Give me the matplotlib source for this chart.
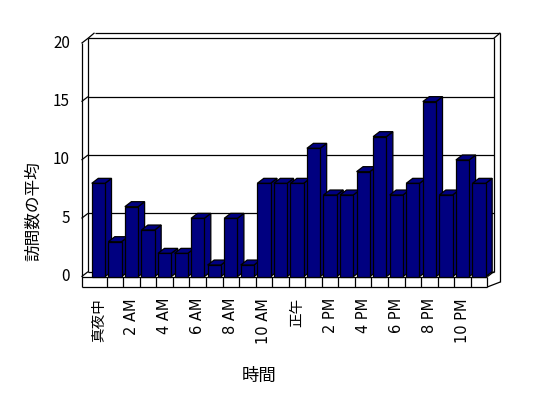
import matplotlib
matplotlib.use("Agg")
import matplotlib.pyplot as plt
from matplotlib.patches import Polygon

plt.rcParams["font.family"] = ["Noto Sans CJK JP", "DejaVu Sans"]

# data
hours = list(range(24))
visits = [8, 3, 6, 4, 2, 2, 5, 1, 5, 1, 8, 8, 8, 11, 7, 7, 9, 12, 7, 8, 15, 7, 10, 8]
tick_pos = [0, 2, 4, 6, 8, 10, 12, 14, 16, 18, 20, 22]
tick_labels = ["真夜中", "2 AM", "4 AM", "6 AM", "8 AM", "10 AM",
               "正午", "2 PM", "4 PM", "6 PM", "8 PM", "10 PM"]
y_ticks = [0, 5, 10, 15, 20]
x_title = "時間"
y_title = "訪問数の平均"

BAR = "#000080"
# pseudo-3d geometry in data units (category / value)
L, R = -1.02, 23.5        # front left / right edges of the plot box
YMAX = 20
FT = 0.88                 # floor thickness
DX, DY = 0.393, 0.428     # depth offset
TX, TY = 0.393, 0.47      # wall thickness
BW = 0.4                  # half bar width
LW = 0.9

fig = plt.figure(figsize=(5.48, 3.98), dpi=100)
ax = fig.add_axes([0, 0, 1, 1])
ax.set_xlim(-5.945, 27.166)
ax.set_ylim(-10.394, 23.71)
ax.axis("off")


def line(xs, ys, z=2):
    ax.plot(xs, ys, color="black", lw=LW, solid_capstyle="butt", zorder=z)


# walls
line([L, L], [-FT, YMAX])
line([L, L + DX, L + DX + TX], [YMAX, YMAX + DY, YMAX + DY + TY])
line([L + DX, L + DX], [DY, YMAX + DY])
line([L + DX, R + DX], [YMAX + DY, YMAX + DY])
line([R + DX, R + DX], [DY, YMAX + DY])
line([L + DX + TX, R + DX + TX], [YMAX + DY + TY, YMAX + DY + TY])
line([R + DX, R + DX + TX], [YMAX + DY, YMAX + DY + TY])
line([R + DX + TX, R + DX + TX], [YMAX + DY + TY, -FT + DY])
for v in y_ticks[:-1]:
    line([L, L + DX], [v, v + DY])
    line([L + DX, R + DX], [v + DY, v + DY], z=1.5)

# floor
line([L, R], [-FT, -FT])
line([L, R], [0, 0])
line([R, R], [-FT, 0])
line([R, R + DX + TX], [-FT, -FT + DY])
line([R, R + DX], [0, DY])
for k in hours[:-1]:
    line([k + 0.5, k + 0.5], [-FT, 0])

# bars
for i, (h, v) in enumerate(zip(hours, visits)):
    z = 3 + i * 0.01
    front = [(h - BW, 0), (h + BW, 0), (h + BW, v), (h - BW, v)]
    top = [(h - BW, v), (h + BW, v), (h + BW + DX, v + DY), (h - BW + DX, v + DY)]
    side = [(h + BW, 0), (h + BW + DX, DY), (h + BW + DX, v + DY), (h + BW, v)]
    for pts in (side, top, front):
        ax.add_patch(Polygon(pts, closed=True, facecolor=BAR, edgecolor="black",
                             lw=LW, joinstyle="miter", zorder=z))

# tick labels
for v in y_ticks:
    ax.text(L - 0.7, v, str(v), ha="right", va="center", fontsize=11)
for p, lab in zip(tick_pos, tick_labels):
    ax.text(p, -1.83, lab, rotation=90, ha="center", va="top", fontsize=10.5,
            family=["DejaVu Sans", "Noto Sans CJK JP"])

ax.text(9.73, -8.5, x_title, ha="center", va="center", fontsize=12.5)
ax.text(-3.95, 5.63, y_title, rotation=90, ha="center", va="center", fontsize=12)

fig.savefig("out.png", dpi=100)
